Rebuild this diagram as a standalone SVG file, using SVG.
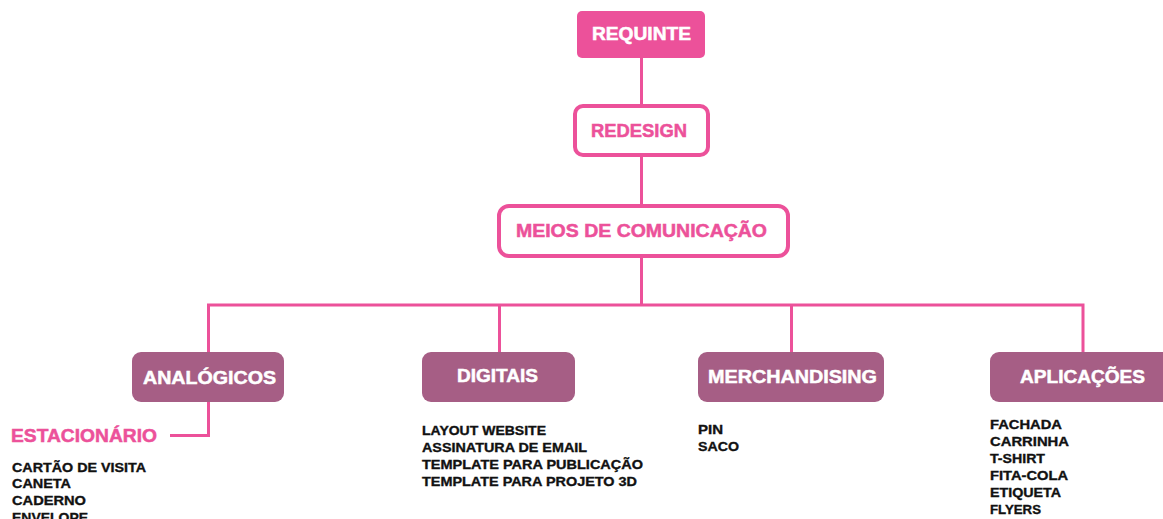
<svg xmlns="http://www.w3.org/2000/svg" width="1163" height="519" viewBox="0 0 1163 519">
<style>
.t{font-family:"Liberation Sans",Arial,sans-serif;font-weight:bold}
.h{font-size:18px;fill:#ffffff;stroke:#ffffff;stroke-width:0.5}
.hp{font-size:18px;fill:#EC519A;stroke:#EC519A;stroke-width:0.5}
.l{font-size:13px;fill:#111111;stroke:#111111;stroke-width:0.35}
.cat{fill:#A65E85}
.line{stroke:#EC519A;stroke-width:3;fill:none}
</style>
<rect width="1163" height="519" fill="#ffffff"/>
<g id="connectors">
<path class="line" d="M641.5 58 V105"/>
<path class="line" d="M641.5 157 V205"/>
<path class="line" d="M641.5 257 V305"/>
<path class="line" d="M208.5 353 V305 H1083 V353"/>
<path class="line" d="M499.5 305 V353"/>
<path class="line" d="M791.5 305 V353"/>
<path class="line" d="M208.5 402 V435.5 H170"/>
</g>
<g id="requinte">
<rect x="577" y="11" width="128" height="47" rx="5" fill="#EC519A"/>
<text class="t h" x="592" y="40" textLength="99" lengthAdjust="spacingAndGlyphs">REQUINTE</text>
</g>
<g id="redesign">
<rect x="575" y="106" width="133" height="49" rx="8" fill="#ffffff" stroke="#EC519A" stroke-width="4"/>
<text class="t hp" x="591" y="137" textLength="96" lengthAdjust="spacingAndGlyphs">REDESIGN</text>
</g>
<g id="meios">
<rect x="499" y="206" width="289" height="50" rx="10" fill="#ffffff" stroke="#EC519A" stroke-width="4"/>
<text class="t hp" x="516" y="237" textLength="251" lengthAdjust="spacingAndGlyphs">MEIOS DE COMUNICAÇÃO</text>
</g>
<g id="analogicos">
<rect class="cat" x="132" y="352" width="152" height="50" rx="9"/>
<text class="t h" x="143" y="384" textLength="133" lengthAdjust="spacingAndGlyphs">ANALÓGICOS</text>
</g>
<g id="estacionario">
<text class="t hp" x="11" y="442" textLength="146" lengthAdjust="spacingAndGlyphs">ESTACIONÁRIO</text>
<text class="t l" x="12" y="472" textLength="134" lengthAdjust="spacingAndGlyphs">CARTÃO DE VISITA</text>
<text class="t l" x="12" y="488" textLength="59" lengthAdjust="spacingAndGlyphs">CANETA</text>
<text class="t l" x="12" y="505" textLength="74" lengthAdjust="spacingAndGlyphs">CADERNO</text>
<text class="t l" x="12" y="522" textLength="76" lengthAdjust="spacingAndGlyphs">ENVELOPE</text>
</g>
<g id="digitais">
<rect class="cat" x="422" y="352" width="153" height="50" rx="9"/>
<text class="t h" x="457" y="382" textLength="81" lengthAdjust="spacingAndGlyphs">DIGITAIS</text>
<text class="t l" x="422" y="435" textLength="124" lengthAdjust="spacingAndGlyphs">LAYOUT WEBSITE</text>
<text class="t l" x="422" y="452" textLength="165" lengthAdjust="spacingAndGlyphs">ASSINATURA DE EMAIL</text>
<text class="t l" x="422" y="469" textLength="221" lengthAdjust="spacingAndGlyphs">TEMPLATE PARA PUBLICAÇÃO</text>
<text class="t l" x="422" y="486" textLength="215" lengthAdjust="spacingAndGlyphs">TEMPLATE PARA PROJETO 3D</text>
</g>
<g id="merchandising">
<rect class="cat" x="698" y="352" width="186" height="50" rx="9"/>
<text class="t h" x="708" y="383" textLength="169" lengthAdjust="spacingAndGlyphs">MERCHANDISING</text>
<text class="t l" x="698" y="434" textLength="25" lengthAdjust="spacingAndGlyphs">PIN</text>
<text class="t l" x="698" y="451" textLength="41" lengthAdjust="spacingAndGlyphs">SACO</text>
</g>
<g id="aplicacoes">
<rect class="cat" x="990" y="352" width="190" height="50" rx="9"/>
<text class="t h" x="1020" y="383" textLength="125" lengthAdjust="spacingAndGlyphs">APLICAÇÕES</text>
<text class="t l" x="990" y="429" textLength="72" lengthAdjust="spacingAndGlyphs">FACHADA</text>
<text class="t l" x="990" y="446" textLength="79" lengthAdjust="spacingAndGlyphs">CARRINHA</text>
<text class="t l" x="990" y="463" textLength="55" lengthAdjust="spacingAndGlyphs">T-SHIRT</text>
<text class="t l" x="990" y="480" textLength="78" lengthAdjust="spacingAndGlyphs">FITA-COLA</text>
<text class="t l" x="990" y="497" textLength="71" lengthAdjust="spacingAndGlyphs">ETIQUETA</text>
<text class="t l" x="990" y="514" textLength="51" lengthAdjust="spacingAndGlyphs">FLYERS</text>
</g>
</svg>
